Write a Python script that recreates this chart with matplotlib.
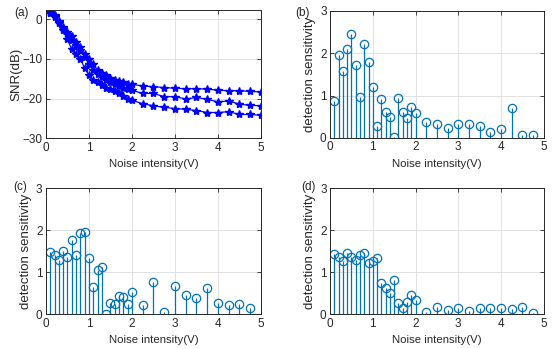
import numpy as np
import matplotlib
matplotlib.use("Agg")
import matplotlib.pyplot as plt

plt.rcParams['font.family'] = ['Liberation Sans', 'DejaVu Sans']
plt.rcParams['font.size'] = 8

# noise levels
x_snr = [0.1, 0.2, 0.3, 0.4, 0.5, 0.6, 0.7, 0.8, 0.9, 1.0,
         1.1, 1.2, 1.3, 1.4, 1.5, 1.6, 1.7, 1.8, 1.9, 2.0,
         2.25, 2.5, 2.75, 3.0, 3.25, 3.5, 3.75, 4.0, 4.25, 4.5, 4.75, 5.0]
snr_top = [1.8, 1.0, -0.4, -1.9, -3.2, -4.3, -5.7, -7.0, -8.7, -9.9,
           -11.2, -12.9, -13.5, -14.1, -14.7, -15.2, -15.5, -15.8, -16.2, -16.4,
           -16.8, -17.0, -17.2, -17.4, -17.5, -17.5, -17.6, -17.9, -18.0, -18.0, -18.2, -18.3]
snr_mid = [1.6, 0.8, -0.7, -2.2, -3.8, -5.3, -6.6, -7.8, -9.5, -11.2,
           -12.9, -13.7, -14.5, -15.2, -15.8, -16.4, -16.9, -17.2, -17.5, -17.9,
           -18.7, -18.7, -19.5, -19.5, -20.1, -19.7, -20.2, -20.8, -20.6, -21.4, -21.7, -21.8]
snr_bot = [1.5, 0.6, -1.0, -2.6, -5.1, -7.6, -8.7, -9.9, -12.4, -14.1,
           -15.4, -15.8, -16.6, -17.2, -17.7, -18.1, -18.7, -19.4, -20.0, -20.4,
           -21.3, -21.8, -22.2, -22.5, -22.7, -23.0, -23.5, -23.5, -23.3, -24.0, -24.0, -24.2]

x_sens = [0.1, 0.2, 0.3, 0.4, 0.5, 0.6, 0.7, 0.8, 0.9, 1.0,
          1.1, 1.2, 1.3, 1.4, 1.5, 1.6, 1.7, 1.8, 1.9, 2.0,
          2.25, 2.5, 2.75, 3.0, 3.25, 3.5, 3.75, 4.0, 4.25, 4.5, 4.75]
sens_b = [0.88, 1.95, 1.57, 2.10, 2.45, 1.72, 0.97, 2.22, 1.80, 1.21,
          0.28, 0.92, 0.61, 0.49, 0.03, 0.95, 0.62, 0.46, 0.73, 0.58,
          0.37, 0.32, 0.24, 0.32, 0.32, 0.28, 0.14, 0.21, 0.71, 0.07, 0.07]
sens_c = [1.49, 1.40, 1.29, 1.50, 1.36, 1.76, 1.42, 1.94, 1.97, 1.35,
          0.65, 1.05, 1.12, 0.00, 0.28, 0.25, 0.44, 0.42, 0.25, 0.54,
          0.22, 0.77, 0.05, 0.67, 0.45, 0.39, 0.63, 0.28, 0.22, 0.24, 0.15]
sens_d = [1.44, 1.37, 1.27, 1.46, 1.36, 1.30, 1.42, 1.46, 1.23, 1.28,
          1.35, 0.75, 0.62, 0.50, 0.82, 0.28, 0.14, 0.29, 0.46, 0.33,
          0.05, 0.18, 0.11, 0.15, 0.07, 0.15, 0.15, 0.16, 0.12, 0.17, 0.02]

stem_col = '#0072BD'
txt_col = '#262626'

fig = plt.figure(figsize=(5.52, 3.49), dpi=100)
ax_a = fig.add_axes([0.0833, 0.6037, 0.3895, 0.3673])
ax_b = fig.add_axes([0.598, 0.605, 0.387, 0.3635])
ax_c = fig.add_axes([0.0833, 0.0994, 0.3895, 0.3611])
ax_d = fig.add_axes([0.598, 0.0994, 0.387, 0.3611])


def style(ax):
    ax.grid(True, color='#dcdcdc', linewidth=0.6)
    ax.set_axisbelow(True)
    ax.tick_params(direction='in', top=True, right=True, length=3,
                   width=0.6, labelsize=8.5, colors=txt_col, pad=2.5)
    for s in ax.spines.values():
        s.set_linewidth(0.7)
        s.set_color(txt_col)
    ax.set_xlim(0, 5)
    ax.set_xticks([0, 1, 2, 3, 4, 5])
    ax.set_xlabel('Noise intensity(V)', fontsize=8.2, color=txt_col, labelpad=4)


# (a) SNR curves
for ys in (snr_top, snr_mid, snr_bot):
    ax_a.plot(x_snr, ys, color='b', marker='*', markersize=6, linewidth=0.9)
style(ax_a)
ax_a.set_ylim(-30, 2.3)
ax_a.set_yticks([0, -10, -20, -30])
ax_a.set_ylabel('SNR(dB)', fontsize=9.5, color=txt_col, labelpad=0)

# (b)-(d) stems
for ax, vals in ((ax_b, sens_b), (ax_c, sens_c), (ax_d, sens_d)):
    ml, sl, bl = ax.stem(x_sens, vals, basefmt=' ')
    plt.setp(sl, color=stem_col, linewidth=0.9)
    plt.setp(ml, color=stem_col, marker='o', markersize=6,
             markerfacecolor='none', markeredgewidth=0.9)
    style(ax)
    ax.set_ylim(0, 3)
    ax.set_yticks([0, 1, 2, 3])
    ax.set_ylabel('detection sensitivity', fontsize=9.5, color=txt_col, labelpad=3)

for lab, px, py in (('(a)', 22, 13), ('(b)', 303, 13), ('(c)', 20, 187), ('(d)', 308, 187)):
    fig.text(px / 552, 1 - py / 349, lab, fontsize=8.5, color=txt_col,
             ha='center', va='center')

fig.savefig('out.png', dpi=100)
